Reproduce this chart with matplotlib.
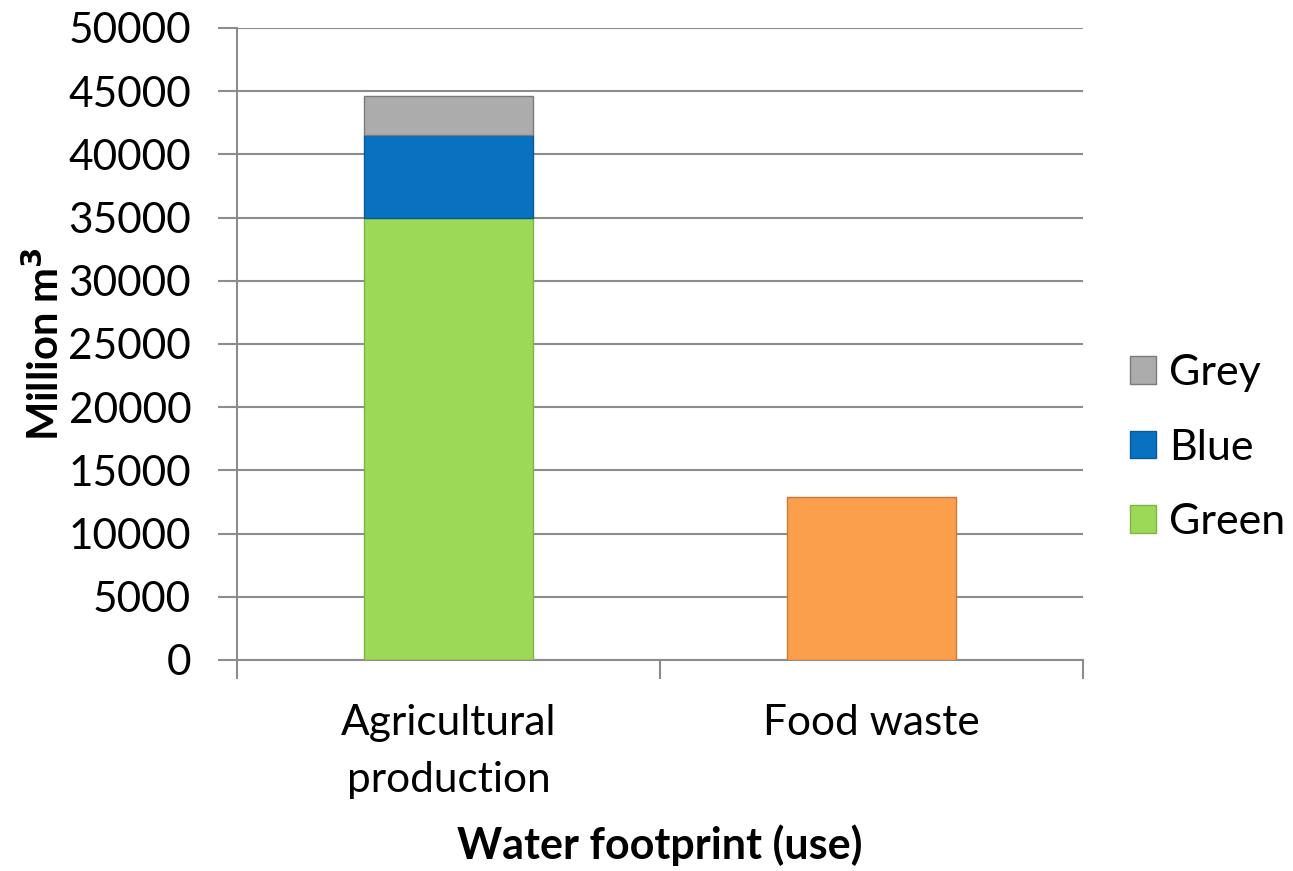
import matplotlib.pyplot as plt
from matplotlib.patches import Patch

# water footprint, million m3
categories = ['Agricultural\nproduction', 'Food waste']
green = [35000, 0]
blue = [6500, 0]
grey = [3100, 0]
food_waste = [0, 12900]

plt.rcParams['font.family'] = ['Lato', 'DejaVu Sans']

fig = plt.figure(figsize=(12.93, 8.71), dpi=100)
ax = fig.add_axes([0.1833, 0.2423, 0.6543, 0.7256])

x = range(len(categories))
w = 0.4
grid_col = '#8c8c8c'

ax.bar(x, green, w, color='#9bd957', edgecolor='#7fb545', linewidth=1, zorder=3)
ax.bar(x, blue, w, bottom=green, color='#0872c0', edgecolor='#065a98', linewidth=1, zorder=3)
bottom2 = [g + b for g, b in zip(green, blue)]
ax.bar(x, grey, w, bottom=bottom2, color='#acacac', edgecolor='#7a7a7a', linewidth=1, zorder=3)
ax.bar(x, food_waste, w, color='#fb9f4c', edgecolor='#c97a35', linewidth=1, zorder=3)

ax.set_xlim(-0.5, 1.5)
ax.set_ylim(0, 50000)
ax.set_yticks(range(0, 50001, 5000))
ax.yaxis.grid(True, color=grid_col, linewidth=1.5, zorder=0)

ax.set_xticks(list(x))
ax.set_xticklabels(categories, fontsize=30.5, linespacing=1.6)
ax.set_xticks([-0.5, 0.5, 1.5], minor=True)
ax.tick_params(axis='x', which='major', length=0, pad=32)
ax.tick_params(axis='x', which='minor', length=14, width=1.5, color=grid_col)
ax.tick_params(axis='y', length=14, width=1.5, color=grid_col, labelsize=30.5, pad=19)

for s in ['top', 'right']:
    ax.spines[s].set_visible(False)
for s in ['left', 'bottom']:
    ax.spines[s].set_color(grid_col)
    ax.spines[s].set_linewidth(1.5)

ax.set_ylabel('Million m$^\\mathbf{3}$', fontsize=30, fontweight='bold', labelpad=2)
ax.set_xlabel('Water footprint (use)', fontsize=31, fontweight='bold', labelpad=18)

handles = [Patch(facecolor='#acacac', edgecolor='#7a7a7a'),
           Patch(facecolor='#0872c0', edgecolor='#065a98'),
           Patch(facecolor='#9bd957', edgecolor='#7fb545')]
fig.legend(handles, ['Grey', 'Blue', 'Green'], loc='center left',
           bbox_to_anchor=(0.861, 0.486), frameon=False, fontsize=31,
           handlelength=0.6, handleheight=0.6, handletextpad=0.3,
           labelspacing=0.85, borderaxespad=0)

fig.savefig('out.png', dpi=100)
